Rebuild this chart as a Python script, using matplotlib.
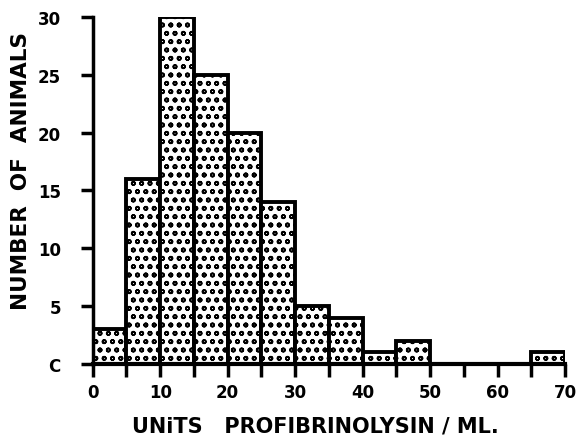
import matplotlib
matplotlib.use('Agg')
import matplotlib.pyplot as plt

# histogram bins (units profibrinolysin / ml) and counts
bin_edges = [0, 5, 10, 15, 20, 25, 30, 35, 40, 45, 50, 55, 60, 65, 70]
counts = [3, 16, 30, 25, 20, 14, 5, 4, 1, 2, 0, 0, 0, 1]
x_ticks = [0, 10, 20, 30, 40, 50, 60, 70]
y_ticks = [0, 5, 10, 15, 20, 25, 30]
y_tick_labels = ['C', '5', '10', '15', '20', '25', '30']

plt.rcParams['hatch.linewidth'] = 1.2
plt.rcParams['hatch.color'] = 'black'

fig = plt.figure(figsize=(5.76, 4.39), dpi=100)
ax = fig.add_axes([0.161, 0.169, 0.82, 0.79])

lefts = bin_edges[:-1]
widths = [b - a for a, b in zip(bin_edges[:-1], bin_edges[1:])]
ax.bar(lefts, counts, width=widths, align='edge', facecolor='white',
       edgecolor='black', linewidth=2.8, hatch='oo')

ax.set_xlim(0, 70)
ax.set_ylim(0, 30)
ax.spines['top'].set_visible(False)
ax.spines['right'].set_visible(False)
ax.spines['left'].set_linewidth(2.5)
ax.spines['bottom'].set_linewidth(3)

ax.set_xticks(bin_edges)
ax.set_xticklabels([str(v) if v in x_ticks else '' for v in bin_edges])
ax.set_yticks(y_ticks)
ax.set_yticklabels(y_tick_labels)
ax.tick_params(axis='both', length=9, width=2.5, direction='out',
               labelsize=12)
ax.tick_params(axis='x', pad=5)
ax.tick_params(axis='y', pad=14)
for lbl in ax.get_xticklabels() + ax.get_yticklabels():
    lbl.set_fontweight('heavy')

ax.set_xlabel('UNiTS   PROFIBRINOLYSIN / ML.', fontsize=15,
              fontweight='heavy')
ax.xaxis.set_label_coords(0.472, -0.148)

# y label sits a bit above the axes centre in the original
fig.text(0.036, 0.61, 'NUMBER  OF  ANIMALS', fontsize=15.5, fontweight='heavy',
         rotation=90, ha='center', va='center')

fig.savefig('out.png', dpi=100)
